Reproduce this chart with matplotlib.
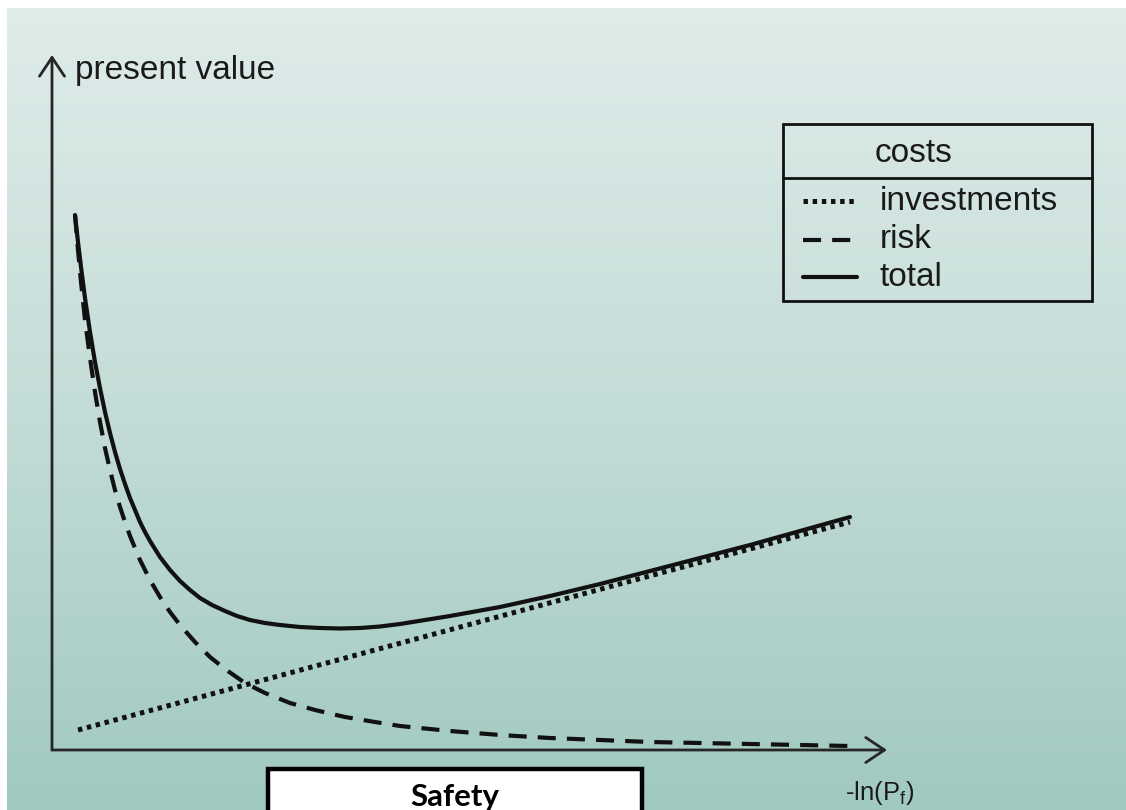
import numpy as np
import matplotlib
matplotlib.use('Agg')
import matplotlib.pyplot as plt
import matplotlib.colors as mcolors
from matplotlib.patches import Rectangle
from matplotlib.lines import Line2D

# ---------------- data (arbitrary units: safety level vs present value) -------------
risk_x = [23, 26, 29, 33, 38, 43, 48, 53, 58, 63, 68, 73, 78, 88, 98, 108, 118, 128, 143, 158, 173, 193,
          213, 238, 263, 293, 323, 348, 398, 448, 498, 548, 598, 648, 698, 748, 798]
risk_y = [535, 500, 468, 430, 392, 358, 328, 302, 280, 260, 243, 228, 214, 190, 170, 153, 138, 125, 108, 93, 81, 67,
          57, 47, 40, 33, 28, 24, 19, 15, 12, 10, 8, 7, 6, 5, 4]

inv_x = [26, 798]
inv_y = [20, 228]

total_x = [23, 26, 29, 33, 38, 43, 48, 53, 58, 63, 68, 73, 78, 83, 88, 93, 98, 103, 108, 118, 128, 138, 148,
           160, 173, 185, 198, 213, 228, 248, 268, 288, 308, 328, 348, 373, 398, 423, 448, 473, 498, 548,
           598, 648, 698, 748, 798]
total_y = [535, 508, 483, 452, 418, 388, 362, 338, 317, 298, 281, 266, 252, 240, 228, 218, 209, 201, 193, 180, 169,
           160, 152, 145, 139, 134, 130, 127, 125, 123, 122, 121.5, 122, 123.5, 126, 130, 134, 138.5, 143, 148.5,
           154, 166, 179, 192, 205, 219, 233]

legend_title = "costs"
labels = ["investments", "risk", "total"]

# ---------------- figure -------------
W, H = 1126, 810
plt.rcParams['font.family'] = ['Liberation Sans', 'DejaVu Sans']
plt.rcParams['mathtext.fontset'] = 'custom'
plt.rcParams['mathtext.rm'] = 'Liberation Sans'
plt.rcParams['lines.scale_dashes'] = False

fig = plt.figure(figsize=(W / 100, H / 100), dpi=100)
fig.patch.set_facecolor('white')

# gradient background (white strip at top and left)
bg = fig.add_axes([7 / W, 0, (W - 7) / W, (H - 8) / H])
grad = np.linspace(0, 1, 256).reshape(-1, 1)
cmap = mcolors.LinearSegmentedColormap.from_list('bg', ['#dfecea', '#c4dcd7', '#a0c9c0'])
bg.imshow(grad, aspect='auto', cmap=cmap, extent=[0, 1, 0, 1], origin='upper')
bg.axis('off')

# main axes
ax = fig.add_axes([52 / W, (H - 750) / H, (887 - 52) / W, (750 - 55) / H])
ax.set_xlim(0, 835)
ax.set_ylim(0, 695)
ax.patch.set_alpha(0)
ax.axis('off')

axis_col = '#262626'
arrow_kw = dict(arrowstyle='->,head_length=0.45,head_width=0.3', lw=2.0, color=axis_col,
                mutation_scale=30, shrinkA=0, shrinkB=0)
ax.annotate('', xy=(0, 1), xytext=(0, 0), xycoords='axes fraction', arrowprops=arrow_kw)
ax.annotate('', xy=(1, 0), xytext=(0, 0), xycoords='axes fraction', arrowprops=arrow_kw)

inv_style = dict(color='#111111', lw=3.6, linestyle=(0, (3.2, 3.4)), dash_capstyle='butt')
risk_style = dict(color='#111111', lw=3.0, linestyle=(0, (13, 8)), dash_capstyle='butt')
total_style = dict(color='#111111', lw=3.0, linestyle='-', solid_capstyle='round', solid_joinstyle='round')

ax.plot(inv_x, inv_y, **inv_style)
ax.plot(risk_x, risk_y, **risk_style)
ax.plot(total_x, total_y, **total_style)

# overlay axes in pixel coordinates for annotation boxes
ov = fig.add_axes([0, 0, 1, 1])
ov.set_xlim(0, W)
ov.set_ylim(H, 0)
ov.patch.set_alpha(0)
ov.axis('off')

ov.text(75, 70, "present value", fontsize=24, color='#1a1a1a', va='center', ha='left')
ov.text(845, 793, r"-ln(P$_\mathrm{f}$)", fontsize=18.5, color='#1a1a1a', va='center', ha='left')

# Safety box
ov.add_patch(Rectangle((268, 769), 374, 60, facecolor='white', edgecolor='black', lw=3.2, clip_on=False))
ov.text(455, 797, "Safety", fontsize=22.5, fontweight='bold', family='Lato', color='black',
        ha='center', va='center')

# legend box
ov.add_patch(Rectangle((783, 124), 309, 177, facecolor='none', edgecolor='#111111', lw=2.0))
ov.plot([783, 1092], [178, 178], color='#111111', lw=2.0)
ov.text(875, 154, legend_title, fontsize=24, color='#1a1a1a', ha='left', va='center')
ys = [201, 240, 277]
styles = [inv_style, risk_style, total_style]
for yy, lab, st in zip(ys, labels, styles):
    ov.add_line(Line2D([803, 857], [yy, yy], **st))
    ov.text(880, yy, lab, fontsize=24, color='#1a1a1a', ha='left', va='center')

fig.savefig('out.png', dpi=100, facecolor='white')
